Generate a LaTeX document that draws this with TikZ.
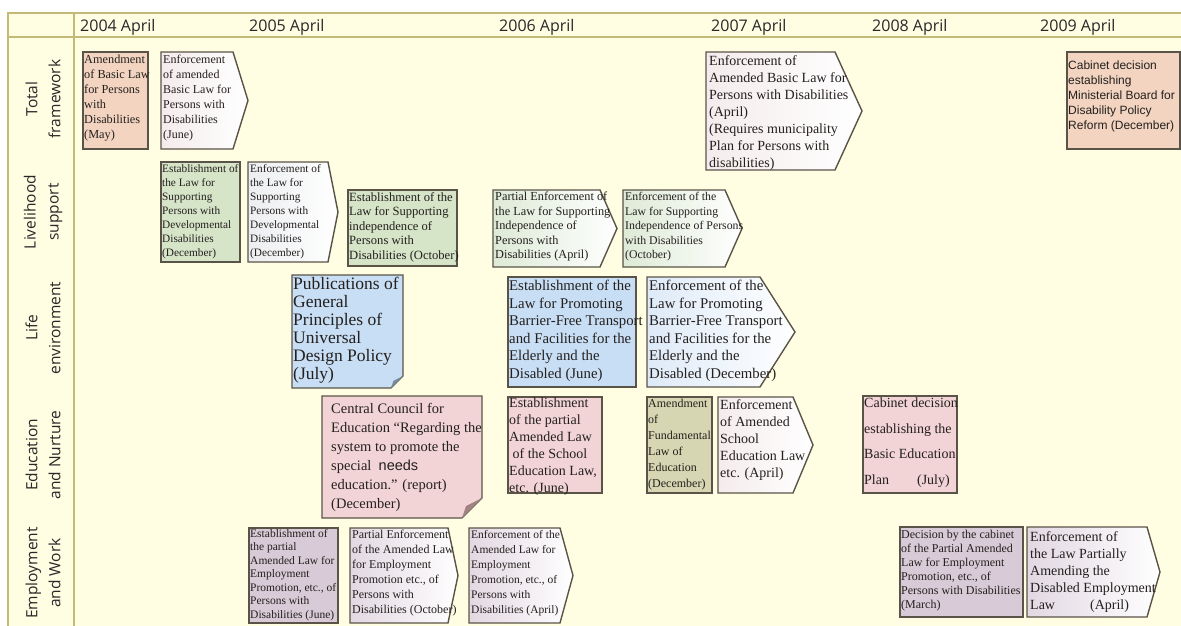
\documentclass[tikz,border=0pt]{standalone}
\usepackage{fontspec}
\setmainfont{Liberation Serif}
\newfontfamily\headfont{Open Sans}
\newfontfamily\cabfont{Liberation Sans}
\definecolor{bgcol}{RGB}{255,253,226}
\definecolor{framecol}{RGB}{196,186,120}
\definecolor{boxline}{RGB}{90,84,72}
\definecolor{txtcol}{RGB}{36,32,30}
\definecolor{headcol}{RGB}{40,40,40}
\definecolor{peach}{RGB}{242,212,192}
\definecolor{greenbox}{RGB}{214,228,200}
\definecolor{bluebox}{RGB}{200,222,245}
\definecolor{pinkbox}{RGB}{242,212,215}
\definecolor{olivebox}{RGB}{214,214,178}
\definecolor{mauvebox}{RGB}{216,202,214}
\definecolor{arrowpink}{RGB}{244,236,236}
\definecolor{arrowgray}{RGB}{236,238,240}
\definecolor{arrowgreen}{RGB}{222,234,214}
\definecolor{arrowblue}{RGB}{222,234,248}
\definecolor{arrowmauve}{RGB}{226,216,226}
\definecolor{flapblue}{RGB}{120,140,160}
\definecolor{flappink}{RGB}{160,130,130}
\newcommand\lawfont[2]{\fontsize{#1}{#2}\selectfont}

\begin{document}
\begin{tikzpicture}[x=1pt,y=-1pt,
  frame/.style={draw=framecol,line width=2pt},
  year/.style={anchor=base west,inner sep=0pt,text=headcol,font={\headfont\lawfont{16}{18}}},
  rowlab/.style={rotate=90,align=center,inner sep=0pt,text=headcol,font={\headfont\lawfont{15.5}{23}}},
  evbox/.style={draw=boxline,line width=1.4pt},
  evtext/.style={anchor=north west,inner sep=0pt,align=left,text=txtcol},
  arrowshape/.style n args={5}{insert path={(#1,#2) -- ({#3-#5},#2) -- (#3,{(#2+#4)/2}) -- ({#3-#5},#4) -- (#1,#4) -- cycle}},
  noteshape/.style n args={5}{insert path={(#1,#2) -- (#3,#2) -- (#3,{#4-#5}) -- ({#3-#5},#4) -- (#1,#4) -- cycle}},
  flap/.style n args={3}{insert path={(#1,{#2-#3}) -- ({#1-#3},#2) -- ({#1-0.8*#3},{#2-0.6*#3}) -- cycle}}]
  \useasboundingbox (0,0) rectangle (1181,626);
  % grid of the table
  \fill[bgcol] (8,13) rectangle (1181,626);
  \draw[frame] (8,626) -- (8,13) -- (1181,13);
  \draw[frame,line width=2.6pt] (8,37) -- (1181,37);
  \draw[frame] (74,13) -- (74,626);
  \foreach \x/\yr in {80/2004,249/2005,499/2006,711/2007,872/2008,1040/2009}
    \node[year] (y\yr) at (\x,32) {\yr{} April};
  \node[rowlab] (total) at (43,99) {Total\\framework};
  \node[rowlab] (live) at (43,212) {Livelihood\\support};
  \node[rowlab] (life) at (43,328) {Life\\environment};
  \node[rowlab] (educ) at (43,455) {Education\\and Nurture};
  \node[rowlab] (empl) at (43,573) {Employment\\and Work};
  % total framework
  \draw[evbox,fill=peach] (83,52) rectangle (148,149);
  \node[evtext,font={\lawfont{12.3}{15}}] (tf1) at (84,55) {Amendment\\of Basic Law\\for Persons\\with\\Disabilities\\(May)};
  \draw[evbox,left color=arrowpink,right color=white,arrowshape={161}{52}{248}{149}{15}];
  \node[evtext,font={\lawfont{12}{15}}] (tf2) at (163,55) {Enforcement\\of amended\\Basic Law for\\Persons with\\Disabilities\\(June)};
  \draw[evbox,left color=arrowpink,right color=white,arrowshape={706}{52}{862}{170}{27}];
  \node[evtext,font={\lawfont{14}{17}}] (tf3) at (709,55) {Enforcement of\\Amended Basic Law for\\Persons with Disabilities\\(April)\\(Requires municipality\\Plan for Persons with\\disabilities)};
  \draw[evbox,fill=peach] (1067,52) rectangle (1180,149);
  \node[evtext,font={\cabfont\lawfont{12}{15}}] (tf4) at (1068,61) {Cabinet decision\\establishing\\Ministerial Board for\\Disability Policy\\Reform (December)};
  % livelihood support
  \draw[evbox,fill=greenbox] (161,162) rectangle (240,262);
  \node[evtext,font={\lawfont{11.3}{14}}] (ls1) at (162,164) {Establishment of\\the Law for\\Supporting\\Persons with\\Developmental\\Disabilities\\(December)};
  \draw[evbox,left color=arrowgray,right color=white,arrowshape={248}{162}{338}{262}{10}];
  \node[evtext,font={\lawfont{11.3}{14}}] (ls2) at (250,164) {Enforcement of\\the Law for\\Supporting\\Persons with\\Developmental\\Disabilities\\(December)};
  \draw[evbox,fill=greenbox] (348,190) rectangle (457,266);
  \node[evtext,font={\lawfont{12.6}{14.5}}] (ls3) at (349,192) {Establishment of the\\Law for Supporting\\independence of\\Persons with\\Disabilities (October)};
  \draw[evbox,left color=arrowgreen,right color=white,arrowshape={493}{190}{617}{267}{17}];
  \node[evtext,font={\lawfont{12.3}{14.5}}] (ls4) at (495,192) {Partial Enforcement of\\the Law for Supporting\\Independence of\\Persons with\\Disabilities (April)};
  \draw[evbox,left color=arrowgreen,right color=white,arrowshape={623}{190}{742}{267}{17}];
  \node[evtext,font={\lawfont{11.8}{14.5}}] (ls5) at (625,192) {Enforcement of the\\Law for Supporting\\Independence of Persons\\with Disabilities\\(October)};
  % life environment
  \draw[evbox,fill=bluebox,noteshape={292}{275}{403}{388}{12}];
  \fill[flapblue,flap={403}{388}{12}];
  \node[evtext,font={\lawfont{17.5}{18}}] (le1) at (293,277) {Publications of\\General\\Principles of\\Universal\\Design Policy\\(July)};
  \draw[evbox,fill=bluebox] (508,277) rectangle (636,387);
  \node[evtext,font={\lawfont{14.8}{17.5}}] (le2) at (509,280) {Establishment of the\\Law for Promoting\\Barrier-Free Transport\\and Facilities for the\\Elderly and the\\Disabled (June)};
  \draw[evbox,left color=arrowblue,right color=white,arrowshape={647}{277}{795}{387}{35}];
  \node[evtext,font={\lawfont{14.8}{17.5}}] (le3) at (649,280) {Enforcement of the\\ Law for Promoting\\Barrier-Free Transport\\and Facilities for the\\Elderly and the\\Disabled (December)};
  % education and nurture
  \draw[evbox,fill=pinkbox,noteshape={322}{396}{482}{518}{20}];
  \fill[flappink,flap={482}{518}{20}];
  \node[evtext,font={\lawfont{14.5}{19}}] (en1) at (331,403) {Central Council for\\Education “Regarding the\\system to promote the\\special \ {\cabfont needs}\\education.” (report)\\(December)};
  \draw[evbox,fill=pinkbox] (508,397) rectangle (602,493);
  \node[evtext,font={\lawfont{14}{17}}] (en2) at (509,398) {Establishment\\of the partial\\Amended Law\\\ of the School\\Education Law,\\etc. (June)};
  \draw[evbox,fill=olivebox] (647,397) rectangle (712,493);
  \node[evtext,font={\lawfont{12}{16}}] (en3) at (648,399) {Amendment\\of\\Fundamental\\Law of\\Education\\(December)};
  \draw[evbox,left color=arrowpink,right color=white,arrowshape={718}{397}{813}{493}{20}];
  \node[evtext,font={\lawfont{14}{17}}] (en4) at (720,399) {Enforcement\\of Amended\\School\\Education Law\\etc. (April)};
  \draw[evbox,fill=pinkbox] (863,396) rectangle (957,493);
  \node[evtext,font={\lawfont{14}{25.5}}] (en5) at (864,398) {Cabinet decision\\establishing the\\Basic Education\\Plan\hspace{2em}(July)};
  % employment and work
  \draw[evbox,fill=mauvebox] (249,528) rectangle (338,623);
  \node[evtext,font={\lawfont{11.5}{13.5}}] (ew1) at (250,529) {Establishment of\\the partial\\Amended Law for\\Employment\\Promotion, etc., of\\Persons with\\Disabilities (June)};
  \draw[evbox,left color=arrowmauve,right color=white,arrowshape={350}{528}{458}{623}{10}];
  \node[evtext,font={\lawfont{12}{15}}] (ew2) at (352,530) {Partial Enforcement\\of the Amended Law\\for Employment\\Promotion etc., of\\Persons with\\Disabilities (October)};
  \draw[evbox,left color=arrowmauve,right color=white,arrowshape={469}{528}{573}{623}{13}];
  \node[evtext,font={\lawfont{11.5}{15}}] (ew3) at (471,530) {Enforcement of the\\Amended Law for\\Employment\\Promotion, etc., of\\Persons with\\Disabilities (April)};
  \draw[evbox,fill=mauvebox] (900,527) rectangle (1023,617);
  \node[evtext,font={\lawfont{12}{14}}] (ew4) at (901,530) {Decision by the cabinet\\of the Partial Amended\\Law for Employment\\Promotion, etc., of\\Persons with Disabilities\\(March)};
  \draw[evbox,left color=arrowmauve,right color=white,arrowshape={1027}{527}{1160}{617}{13}];
  \node[evtext,font={\lawfont{14}{17}}] (ew5) at (1030,531) {Enforcement of\\the Law Partially\\Amending the\\Disabled Employment\\Law\hspace{2.5em}(April)};
\end{tikzpicture}
\end{document}
